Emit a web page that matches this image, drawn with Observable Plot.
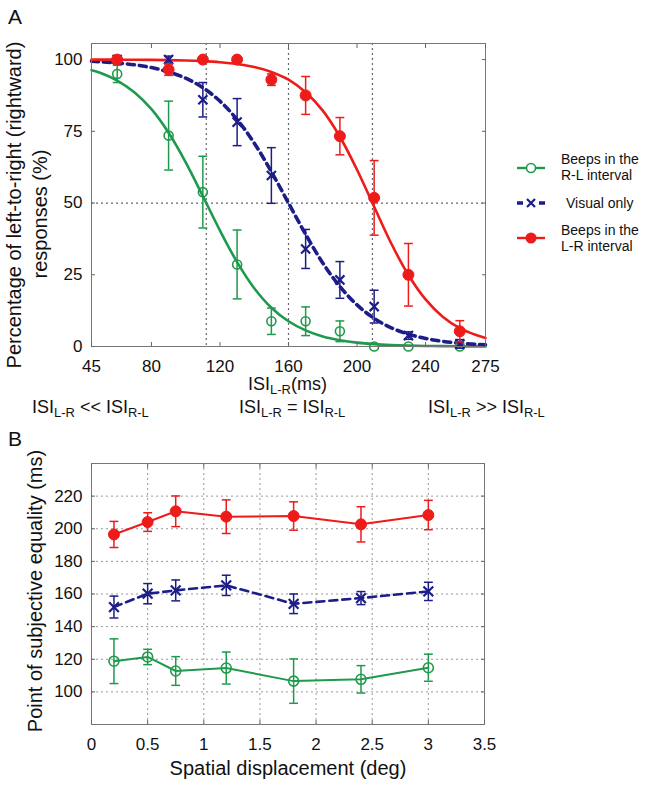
<!DOCTYPE html>
<html><head><meta charset="utf-8">
<script src="https://cdn.jsdelivr.net/npm/d3@7"></script>
<script src="https://cdn.jsdelivr.net/npm/@observablehq/plot@0.6"></script>
<style>
body{margin:0;background:#fff;font-family:"Liberation Sans",Arial,Helvetica,sans-serif;}
#root{position:relative;width:645px;height:786px;overflow:hidden;background:#fff}
#root svg{position:absolute;left:0}
.abs{position:absolute;white-space:nowrap;color:#111;line-height:1}
.abs sub{font-size:0.72em;vertical-align:-0.33em;line-height:0}
</style></head><body><div id="root"></div><script>
// ---------- Panel A data ----------
const isiMs   = [60, 90, 110, 130, 150, 170, 190, 210, 230, 260];
const rlMean  = [95, 73.5, 53.8, 28.6, 8.8, 8.8, 5.3, 0, 0, 0];
const rlErr   = [3, 12, 12.5, 12, 4.6, 5, 3.6, 0, 0, 0];
const visMean = [100, 100, 86, 78.2, 59.6, 34, 23.2, 13.9, 3.8, 0.9];
const visErr  = [0, 1.2, 6, 8.2, 9.7, 6.8, 6.4, 5.7, 1.3, 1.5];
const lrMean  = [100, 96.5, 100, 100, 93, 87.5, 73.3, 51.8, 25, 5.3];
const lrErr   = [0, 2, 0, 0, 2, 6.6, 6.5, 13, 10.9, 3.7];
// fitted psychometric curves
const fitX   = [45, 50, 60, 70, 80, 90, 100, 110, 120, 130, 140, 150, 160, 170, 180, 190, 200, 210, 220, 230, 240, 250, 260, 270, 275];
const rlFit  = [96.3, 95.4, 92.7, 88.6, 82.7, 74.5, 64.2, 52.4, 40.4, 29.4, 20.3, 13.5, 8.8, 5.6, 3.5, 2.2, 1.35, 0.83, 0.51, 0.31, 0.19, 0.12, 0.07, 0.04, 0.03];
const visFit = [99.4, 99.25, 98.8, 98.2, 97.2, 95.7, 93.5, 90.2, 85.5, 79.1, 70.9, 60.9, 50, 39.1, 29.1, 20.9, 14.5, 9.8, 6.5, 4.3, 2.8, 1.8, 1.2, 0.75, 0.6];
const lrFit  = [99.98, 99.97, 99.96, 99.93, 99.89, 99.81, 99.68, 99.45, 99.08, 98.46, 97.4, 95.7, 93.0, 88.6, 82.2, 73.1, 61.6, 48.7, 35.9, 24.9, 16.4, 10.4, 6.4, 3.9, 3.0];
const pseLines = [112, 160, 209];
const halfLine = [50];
const xTicksA = [45, 80, 120, 160, 200, 240, 275];
const yTicksA = [0, 25, 50, 75, 100];

// ---------- Panel B data ----------
const dispDeg = [0.2, 0.5, 0.75, 1.2, 1.8, 2.4, 3.0];
const pseLR   = [196.5, 204.1, 210.7, 207.4, 207.8, 202.7, 208.4];
const errLR   = [8, 5.7, 9.4, 10.3, 8.7, 10.8, 9];
const pseVis  = [152, 160.2, 162.2, 165.3, 154, 157.5, 161.6];
const errVis  = [6.7, 6.2, 6.4, 6.2, 6, 4, 5.6];
const pseRL   = [118.8, 121.4, 112.8, 114.6, 106.6, 107.7, 114.8];
const errRL   = [13.7, 4.7, 8.8, 9.8, 13.6, 8.4, 8.3];
const xTicksB = [0, 0.5, 1, 1.5, 2, 2.5, 3, 3.5];
const yTicksB = [100, 120, 140, 160, 180, 200, 220];

// ---------- legend ----------
const legendLabels = [["Beeps in the", "R-L interval"], ["Visual only"], ["Beeps in the", "L-R interval"]];

const GREEN = "#1f9a4c", NAVY = "#1d1d88", RED = "#ee1b1b";
const FONT = "'Liberation Sans', Arial, Helvetica, sans-serif";

const cap = {draw(ctx, size) { const w = Math.sqrt(size); ctx.moveTo(-w, 0); ctx.lineTo(w, 0); }};

const rows = (xs, ys, es) => xs.map((x, i) => ({x, y: ys[i], e: es[i]}));
const fit = (ys) => fitX.map((x, i) => ({x, y: ys[i]}));

function pointMarks(data, color, kind, sz) {
  const we = data.filter(d => d.e > 0);
  const m = [
    Plot.ruleX(we, {x: "x", y1: d => d.y - d.e, y2: d => d.y + d.e, stroke: color, strokeWidth: 1.5}),
    Plot.dot(we, {x: "x", y: d => d.y - d.e, symbol: cap, r: 2.5, fill: "none", stroke: color, strokeWidth: 1.5}),
    Plot.dot(we, {x: "x", y: d => d.y + d.e, symbol: cap, r: 2.5, fill: "none", stroke: color, strokeWidth: 1.5})
  ];
  if (kind === "circle") m.push(Plot.dot(data, {x: "x", y: "y", r: sz, fill: "none", stroke: color, strokeWidth: 1.6}));
  if (kind === "times") m.push(Plot.dot(data, {x: "x", y: "y", r: sz, symbol: "times", stroke: color, strokeWidth: 2.2}));
  if (kind === "dot") m.push(Plot.dot(data, {x: "x", y: "y", r: sz, fill: color, stroke: color, strokeWidth: 1}));
  return m;
}

const fmt = d => String(d);
function axes(xt, yt) {
  return [
    Plot.axisX({anchor: "bottom", ticks: xt, tickFormat: fmt, tickSize: -4, tickPadding: 17, fontSize: 17, stroke: "#666", color: "#111"}),
    Plot.axisX({anchor: "top", ticks: xt, tickSize: -4, tickFormat: () => "", stroke: "#666"}),
    Plot.axisY({anchor: "left", ticks: yt, tickFormat: fmt, tickSize: -4, tickPadding: 13, fontSize: 17, stroke: "#666", color: "#111"}),
    Plot.axisY({anchor: "right", ticks: yt, tickSize: -4, tickFormat: () => "", stroke: "#666"})
  ];
}

const root = document.getElementById("root");

// ---------- Panel A ----------
const plotA = Plot.plot({
  width: 645, height: 400,
  marginLeft: 91, marginRight: 160, marginTop: 43, marginBottom: 54,
  x: {domain: [45, 275], label: null},
  y: {domain: [0, 105.6], label: null},
  style: {fontFamily: FONT, fontSize: "17px", background: "transparent", color: "#111"},
  marks: [
    Plot.ruleY(halfLine, {y: d => d, stroke: "#666", strokeWidth: 1.2, strokeDasharray: "2,3"}),
    Plot.ruleX(pseLines, {x: d => d, stroke: "#666", strokeWidth: 1.2, strokeDasharray: "2,3"}),
    Plot.line(fit(rlFit), {x: "x", y: "y", stroke: GREEN, strokeWidth: 2.6, curve: "catmull-rom"}),
    Plot.line(fit(visFit), {x: "x", y: "y", stroke: NAVY, strokeWidth: 3.6, strokeDasharray: "7,5", curve: "catmull-rom"}),
    Plot.line(fit(lrFit), {x: "x", y: "y", stroke: RED, strokeWidth: 2.6, curve: "catmull-rom"}),
    ...pointMarks(rows(isiMs, rlMean, rlErr), GREEN, "circle", 4.5),
    ...pointMarks(rows(isiMs, visMean, visErr), NAVY, "times", 4.2),
    ...pointMarks(rows(isiMs, lrMean, lrErr), RED, "dot", 5.5),
    Plot.frame({stroke: "#777"}),
    ...axes(xTicksA, yTicksA)
  ]
});
plotA.style.top = "0px";
root.appendChild(plotA);

// ---------- Panel B ----------
const plotB = Plot.plot({
  width: 645, height: 366,
  marginLeft: 91, marginRight: 161, marginTop: 43, marginBottom: 62,
  x: {domain: [0, 3.5], label: null},
  y: {domain: [80, 240], label: null},
  style: {fontFamily: FONT, fontSize: "17px", background: "transparent", color: "#111"},
  marks: [
    Plot.gridX(xTicksB.slice(1, -1), {stroke: "#999", strokeOpacity: 1, strokeDasharray: "2,3"}),
    Plot.gridY(yTicksB, {stroke: "#999", strokeOpacity: 1, strokeDasharray: "2,3"}),
    Plot.line(rows(dispDeg, pseLR, errLR), {x: "x", y: "y", stroke: RED, strokeWidth: 2}),
    Plot.line(rows(dispDeg, pseVis, errVis), {x: "x", y: "y", stroke: NAVY, strokeWidth: 2.6, strokeDasharray: "8,5"}),
    Plot.line(rows(dispDeg, pseRL, errRL), {x: "x", y: "y", stroke: GREEN, strokeWidth: 2}),
    ...pointMarks(rows(dispDeg, pseLR, errLR), RED, "dot", 5.5),
    ...pointMarks(rows(dispDeg, pseVis, errVis), NAVY, "times", 4.5),
    ...pointMarks(rows(dispDeg, pseRL, errRL), GREEN, "circle", 5),
    Plot.frame({stroke: "#777"}),
    ...axes(xTicksB, yTicksB)
  ]
});
plotB.style.top = "420px";
root.appendChild(plotB);

// ---------- text overlays ----------
function addText(html, cx, cy, size, opts = {}) {
  const d = document.createElement("div");
  d.className = "abs";
  d.innerHTML = html;
  d.style.left = cx + "px";
  d.style.top = cy + "px";
  d.style.fontSize = size + "px";
  const tx = opts.anchor === "middle" ? -50 : 0;
  d.style.transform = opts.rotate ? "translate(-50%,-50%) rotate(-90deg)" : `translate(${tx}%,-50%)`;
  root.appendChild(d);
  return d;
}
addText("A", 8, 16, 21);
addText("B", 8, 438, 21);
addText("Percentage of left-to-right (rightward)", 14, 205, 20, {rotate: true});
addText("responses (%)", 40, 214, 20, {rotate: true});
addText("ISI<sub>L-R</sub>(ms)", 248, 384, 18);
addText("ISI<sub>L-R</sub> &lt;&lt; ISI<sub>R-L</sub>", 32, 407, 18);
addText("ISI<sub>L-R</sub> = ISI<sub>R-L</sub>", 239, 407, 18);
addText("ISI<sub>L-R</sub> &gt;&gt; ISI<sub>R-L</sub>", 428, 407, 18);
addText("Point of subjective equality (ms)", 35, 591, 20, {rotate: true});
addText("Spatial displacement (deg)", 288, 768, 20, {anchor: "middle"});

// ---------- legend ----------
const legendSvg = `<svg width="44" height="110" style="position:absolute;left:510px;top:150px" xmlns="http://www.w3.org/2000/svg">
  <line x1="7" x2="35" y1="18" y2="18" stroke="${GREEN}" stroke-width="2.4"/>
  <circle cx="21" cy="18" r="4.5" fill="#fff" stroke="${GREEN}" stroke-width="1.6"/>
  <line x1="7" x2="35" y1="53" y2="53" stroke="${NAVY}" stroke-width="3.4" stroke-dasharray="6,16"/>
  <path d="M17,49L25,57M17,57L25,49" stroke="${NAVY}" stroke-width="2.2"/>
  <line x1="7" x2="35" y1="88" y2="88" stroke="${RED}" stroke-width="2.4"/>
  <circle cx="21" cy="88" r="5.5" fill="${RED}"/>
</svg>`;
root.insertAdjacentHTML("beforeend", legendSvg);
addText(legendLabels[0].join("<br>"), 561, 167, 14).style.lineHeight = "16px";
addText(legendLabels[1].join("<br>"), 566, 203, 14);
addText(legendLabels[2].join("<br>"), 561, 238, 14).style.lineHeight = "16px";
</script></body></html>
